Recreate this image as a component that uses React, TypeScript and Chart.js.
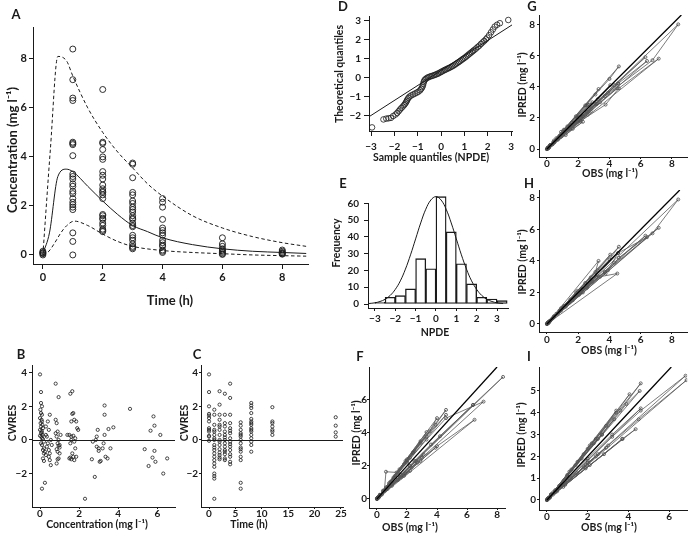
import React, { useEffect, useRef } from 'react';
import { Chart, registerables } from 'chart.js';
Chart.register(...registerables);

const W = 692;
const H = 534;
const FONT = 'Lato, "Open Sans", "DejaVu Sans", sans-serif';
const SUP = 'mg l\u207B\u00B9';

// ---------- Panel A: observed concentrations vs time + median / 90% interval
const aTimes = [0, 1, 2, 3, 4, 6, 8];
const aConc = [
  [0.0, 0.05, 0.1, 0.15, 0.08],
  [8.4, 7.15, 6.4, 6.3, 4.6, 4.55, 4.5, 4.05, 3.3, 3.2, 3.1, 2.9, 2.8, 2.6, 2.5, 2.3, 2.15, 2.05, 1.95, 1.85, 0.9, 0.55, 0.0],
  [6.75, 4.6, 4.55, 4.3, 4.0, 3.9, 3.4, 3.25, 3.1, 2.85, 2.7, 2.6, 2.55, 2.45, 2.3, 1.65, 1.6, 1.5, 1.45, 1.3, 1.2, 1.05, 1.0, 0.95],
  [3.75, 3.7, 3.15, 2.55, 2.45, 2.2, 2.1, 1.95, 1.85, 1.75, 1.6, 1.5, 1.45, 1.3, 1.2, 1.15, 0.8, 0.7, 0.6, 0.45, 0.35, 0.3, 0.25],
  [2.3, 2.15, 1.95, 1.45, 1.1, 1.0, 0.9, 0.8, 0.6, 0.5, 0.4, 0.35, 0.2, 0.15, 0.1],
  [0.7, 0.45, 0.35, 0.25, 0.2, 0.15, 0.1, 0.05, 0.02],
  [0.2, 0.15, 0.1, 0.07, 0.05, 0.03],
];
const aMedT = [0, 0.22, 0.5, 0.78, 1.0, 1.5, 2, 2.5, 3, 3.5, 4, 5, 6, 7, 8, 8.8];
const aMed = [0.05, 0.9, 3.2, 3.5, 3.4, 2.8, 2.2, 1.65, 1.2, 0.95, 0.7, 0.42, 0.25, 0.15, 0.1, 0.06];
const aUpT = [0, 0.25, 0.5, 0.8, 1.0, 1.5, 2, 2.5, 3, 3.5, 4, 5, 6, 7, 8, 8.8];
const aUp = [0.0, 4.3, 8.1, 7.9, 7.3, 6.0, 5.0, 4.2, 3.55, 2.9, 2.4, 1.6, 1.1, 0.75, 0.5, 0.35];
const aLoT = [0, 0.2, 0.4, 0.6, 0.8, 1.05, 1.5, 2, 2.5, 3, 4, 5, 6, 7, 8, 8.8];
const aLo = [0.0, 0.15, 0.5, 0.9, 1.2, 1.38, 1.2, 0.85, 0.55, 0.35, 0.18, 0.1, 0.05, 0.0, -0.03, -0.05];

// ---------- Panel B: CWRES vs concentration
const bPoints = [
  [0, 3.9], [0.05, 2.85], [0.05, 2.2], [0.1, 2.0], [0.02, 1.8], [0.05, 1.6], [0.1, 1.5], [0, 1.3], [0.08, 1.2], [0.1, 1.1],
  [0.03, 1.0], [0.12, 0.9], [0.05, 0.8], [0.15, 0.7], [0, 0.6], [0.08, 0.55], [0.1, 0.45], [0.05, 0.4], [0.12, 0.3], [0, 0.25],
  [0.07, 0.2], [0.1, 0.1], [0.15, 0.05], [0.2, -0.1], [0.05, -0.2], [0.1, -0.3], [0.2, -0.5], [0.15, -0.6], [0.25, -0.7], [0.2, -0.8],
  [0.3, -0.9], [0.15, -1.1], [0.2, -1.25], [0.1, -2.9], [0.25, -2.55], [0.3, 0.3], [0.35, 0.2], [0.4, -0.2], [0.35, -0.4], [0.45, -0.6],
  [0.5, -0.8], [0.45, -1.0], [0.5, -1.2], [0.55, -1.5], [0.4, 1.1], [0.5, 1.5], [0.3, 0.8], [0.45, 0.6], [0.55, 0.0], [0.6, -0.3],
  [0.8, 3.35], [0.95, 2.55], [0.8, 1.2], [0.85, 1.0], [0.9, 0.5], [0.85, 0.2], [0.95, 0.0], [0.9, -0.2], [0.95, -0.35], [1.0, -0.45],
  [0.85, -0.55], [0.9, -0.7], [1.0, -0.8], [0.95, -1.1], [0.9, -1.15], [0.85, -1.4], [1.05, 0.3], [1.0, -0.3], [0.8, 0.4],
  [1.55, 2.75], [1.65, 2.9], [1.7, 1.6], [1.65, 1.55], [1.6, 1.1], [1.75, 1.2], [1.85, 1.1], [1.9, 0.7], [1.95, 0.6], [1.5, 0.3],
  [1.6, 0.2], [1.7, 0.25], [1.8, 0.1], [1.6, 0.0], [1.75, -0.1], [1.8, -0.5], [1.55, -0.2], [1.65, -0.8], [1.7, -1.0], [1.55, -1.05],
  [1.6, -1.15], [1.75, -1.2], [1.85, -1.0], [1.4, 0.3], [1.5, -1.1], [2.3, -3.5],
  [2.65, -1.15], [2.8, -2.2], [2.85, 0.0], [2.95, 0.6], [2.9, 0.2], [2.9, -0.4], [3.0, -0.5], [3.1, -1.25], [3.05, -1.3], [3.2, -0.5],
  [3.25, -0.2], [3.3, 2.05], [3.3, 1.5], [3.3, 0.3], [3.35, -1.0], [3.45, -1.1], [3.5, 0.65], [3.6, -0.5], [3.75, 0.75], [2.7, -0.1], [3.0, -0.65],
  [4.6, 1.85],
  [5.35, -0.55], [5.55, -1.55], [5.65, 0.55], [5.75, -1.05], [5.8, 1.4], [5.85, 0.85], [5.85, -0.65], [5.9, -1.3], [6.15, 0.3], [6.3, -2.0], [6.5, -1.1],
];

// ---------- Panel C: CWRES vs time
const cTimes = [0, 1, 2, 3, 4, 6, 8, 12, 24];
const cRes = [
  [3.9, 2.85, 2.0, 1.55, 1.45, 1.3, 1.1, 0.7, 0.6, 0.5, 0.25, 0.2, -0.05],
  [1.8, 1.5, 0.9, 0.6, 0.3, 0.0, -0.3, -0.6, -0.8, -1.0, -1.2, -1.6, -2.0, -2.15, -2.3, -3.5, 0.5, -0.45, -1.4, 0.1],
  [2.9, 2.1, 1.5, 1.2, 0.9, 0.6, 0.3, 0.0, -0.3, -0.55, -0.75, -0.9, -1.05, -1.15, 0.8, -0.1],
  [2.75, 1.5, 1.0, 0.8, 0.5, 0.3, 0.0, -0.2, -0.4, -0.6, -0.85, -1.1, -1.2, 0.15, -0.7],
  [3.35, 2.5, 1.5, 1.0, 0.7, 0.4, 0.1, -0.1, -0.4, -0.6, -0.85, -1.0, -1.3, -1.45, 0.55, -0.25],
  [1.05, 0.85, 0.6, 0.4, 0.2, 0.0, -0.2, -0.45, -0.7, -1.0, -1.2, -2.55, -2.9, 0.3, -0.55],
  [2.2, 2.05, 1.9, 1.6, 1.25, 1.1, 0.9, 0.7, 0.5, 0.3, 0.1, -0.1, -0.3, -0.7, 1.0, 0.6],
  [1.95, 1.1, 1.0, 0.8, 0.6, 0.5, 0.3],
  [1.35, 0.85, 0.45, 0.2],
];

// ---------- Panel D: QQ plot of NPDE
const dSample = [-2.96, -2.47, -2.35, -2.25, -2.15, -2.05, -1.95, -1.88, -1.82, -1.76, -1.7, -1.64, -1.58, -1.54, -1.5, -1.47, -1.44, -1.4, -1.35, -1.28, -1.2, -1.12, -1.04, -0.97, -0.9, -0.85, -0.81, -0.78, -0.76, -0.74, -0.71, -0.67, -0.62, -0.56, -0.5, -0.44, -0.38, -0.31, -0.25, -0.19, -0.13, -0.07, -0.01, 0.05, 0.11, 0.17, 0.23, 0.29, 0.35, 0.41, 0.47, 0.53, 0.59, 0.65, 0.71, 0.77, 0.83, 0.89, 0.95, 1.01, 1.07, 1.13, 1.19, 1.25, 1.31, 1.37, 1.43, 1.5, 1.57, 1.64, 1.71, 1.78, 1.85, 1.92, 1.98, 2.06, 2.14, 2.22, 2.3, 2.4, 2.52, 2.88];
const dTheo = [-2.6, -2.18, -2.14, -2.12, -2.1, -2.0, -1.92, -1.84, -1.75, -1.66, -1.58, -1.5, -1.42, -1.35, -1.28, -1.2, -1.13, -1.05, -0.98, -0.92, -0.87, -0.82, -0.77, -0.72, -0.65, -0.57, -0.49, -0.4, -0.3, -0.2, -0.12, -0.06, -0.01, 0.03, 0.06, 0.09, 0.11, 0.14, 0.17, 0.2, 0.23, 0.27, 0.31, 0.35, 0.39, 0.43, 0.46, 0.5, 0.53, 0.57, 0.61, 0.65, 0.7, 0.75, 0.8, 0.85, 0.9, 0.96, 1.01, 1.06, 1.12, 1.18, 1.24, 1.3, 1.36, 1.42, 1.48, 1.55, 1.63, 1.7, 1.79, 1.87, 1.95, 2.03, 2.12, 2.25, 2.4, 2.55, 2.7, 2.8, 2.88, 3.05];
const dLineX = [-3.09, 3.04];
const dLineY = [-2.04, 2.79];

// ---------- Panel E: histogram of NPDE with normal curve
const eBinMid = [-2.75, -2.25, -1.75, -1.25, -0.75, -0.25, 0.25, 0.75, 1.25, 1.75, 2.25, 2.75, 3.25];
const eCount = [1, 4, 5, 9, 27, 21, 64, 43, 24, 12, 4, 3, 2];
const eCurveX = [-3.3, -3, -2.75, -2.5, -2.25, -2, -1.75, -1.5, -1.25, -1, -0.75, -0.5, -0.25, 0, 0.25, 0.5, 0.75, 1, 1.25, 1.5, 1.75, 2, 2.25, 2.5, 2.75, 3, 3.3];
const eCurveY = [0.3, 0.7, 1.5, 2.8, 5.1, 8.7, 13.8, 20.8, 29.3, 38.8, 48.3, 56.5, 62.0, 64, 62.0, 56.5, 48.3, 38.8, 29.3, 20.8, 13.8, 8.7, 5.1, 2.8, 1.5, 0.7, 0.3];

// ---------- Panels F-I: IPRED vs OBS per subject
const obsF = [
  [0.05, 8.4, 6.4, 3.6, 2.2, 0.6], [0.1, 7.1, 4.6, 3.3, 2.0, 0.4], [0.0, 6.5, 4.0, 2.9, 1.8, 0.35], [0.15, 6.4, 4.2, 2.5, 1.4, 0.2],
  [0.05, 4.6, 3.9, 2.4, 1.1, 0.2], [0.1, 4.6, 3.3, 2.2, 1.0, 0.15], [0.0, 4.0, 3.5, 2.0, 0.9, 0.1], [0.1, 3.9, 3.0, 1.9, 0.7, 0.1],
  [0.05, 3.3, 2.9, 1.8, 0.6, 0.05], [0.0, 3.1, 2.6, 1.6, 0.5, 0.05], [0.1, 2.9, 2.4, 1.5, 0.4, 0.02], [0.05, 2.7, 2.3, 1.4, 0.3, 0.1],
  [0.0, 2.5, 2.0, 1.2, 0.2, 0.05], [0.1, 2.2, 1.6, 1.0, 0.15, 0.05], [0.05, 1.4, 0.6, 0.5, 0.1, 0.03], [0.0, 1.9, 1.3, 0.8, 0.2, 0.05],
];
const predF = [
  [0.05, 7.4, 5.7, 3.3, 2.0, 0.55], [0.1, 5.9, 4.9, 3.6, 2.2, 0.45], [0.0, 4.8, 3.2, 2.3, 1.4, 0.3], [0.15, 5.7, 3.8, 2.3, 1.3, 0.2],
  [0.05, 5.4, 4.5, 2.8, 1.3, 0.25], [0.1, 5.1, 3.8, 2.5, 1.1, 0.15], [0.0, 4.9, 4.1, 2.4, 1.05, 0.1], [0.1, 3.1, 2.5, 1.55, 0.6, 0.1],
  [0.05, 4.05, 3.4, 2.1, 0.7, 0.05], [0.0, 2.7, 2.3, 1.45, 0.45, 0.05], [0.1, 3.5, 2.8, 1.8, 0.5, 0.03], [0.05, 2.2, 1.9, 1.15, 0.25, 0.1],
  [0.0, 2.9, 2.3, 1.4, 0.25, 0.05], [0.1, 1.7, 1.3, 0.8, 0.12, 0.05], [0.05, 1.6, 1.65, 0.55, 0.1, 0.03], [0.0, 2.3, 1.6, 0.95, 0.25, 0.05],
];
const obsGH = [
  [0.05, 8.4, 6.75, 3.7, 2.3, 0.7], [0.1, 7.15, 4.6, 3.75, 2.15, 0.45], [0.0, 6.4, 4.55, 3.15, 1.95, 0.35], [0.15, 6.3, 4.3, 2.55, 1.45, 0.25],
  [0.05, 4.6, 4.0, 2.45, 1.1, 0.2], [0.1, 4.55, 3.9, 2.2, 1.0, 0.15], [0.0, 4.5, 3.4, 2.1, 0.9, 0.1], [0.1, 4.05, 3.25, 1.95, 0.8, 0.1],
  [0.05, 3.3, 3.1, 1.85, 0.6, 0.05], [0.0, 3.2, 2.85, 1.75, 0.5, 0.05], [0.1, 2.9, 2.7, 1.6, 0.4, 0.02], [0.05, 2.8, 2.6, 1.5, 0.35, 0.1],
  [0.0, 2.6, 2.55, 1.3, 0.2, 0.05], [0.1, 2.3, 1.65, 1.2, 0.15, 0.05], [0.05, 2.05, 1.5, 0.8, 0.1, 0.03], [0.0, 0.9, 1.05, 0.45, 0.2, 0.05],
];
const predG = [
  [0.05, 8.0, 5.7, 3.4, 2.1, 0.6], [0.1, 5.8, 3.9, 2.85, 1.8, 0.4], [0.0, 5.65, 4.2, 2.9, 1.75, 0.3], [0.15, 5.9, 4.1, 2.4, 1.4, 0.25],
  [0.05, 5.3, 4.5, 2.8, 1.25, 0.25], [0.1, 4.2, 3.6, 2.05, 0.95, 0.15], [0.0, 3.9, 3.0, 1.85, 0.8, 0.1], [0.1, 4.1, 3.2, 2.0, 0.8, 0.1],
  [0.05, 3.85, 3.5, 2.1, 0.7, 0.05], [0.0, 2.9, 2.6, 1.6, 0.45, 0.05], [0.1, 3.0, 2.85, 1.7, 0.45, 0.03], [0.05, 2.4, 2.2, 1.3, 0.3, 0.1],
  [0.0, 2.85, 2.8, 1.45, 0.25, 0.05], [0.1, 1.75, 1.3, 0.9, 0.12, 0.05], [0.05, 2.05, 1.5, 0.85, 0.1, 0.03], [0.0, 1.1, 1.2, 0.55, 0.25, 0.05],
];
const predH = [
  [0.05, 7.9, 5.75, 3.3, 2.2, 0.65], [0.1, 6.1, 4.2, 3.2, 2.0, 0.45], [0.0, 5.5, 4.5, 3.0, 1.85, 0.35], [0.15, 5.6, 3.9, 2.3, 1.35, 0.25],
  [0.05, 4.9, 4.1, 2.6, 1.15, 0.2], [0.1, 4.5, 3.4, 2.2, 1.0, 0.15], [0.0, 3.2, 3.0, 2.0, 0.85, 0.1], [0.1, 4.4, 3.4, 2.1, 0.85, 0.1],
  [0.05, 4.0, 3.3, 2.0, 0.65, 0.05], [0.0, 3.1, 2.7, 1.7, 0.5, 0.05], [0.1, 2.7, 2.6, 1.5, 0.4, 0.03], [0.05, 2.95, 2.5, 1.55, 0.35, 0.1],
  [0.0, 2.4, 2.3, 1.25, 0.2, 0.05], [0.1, 2.0, 1.5, 1.1, 0.15, 0.05], [0.05, 1.85, 1.45, 0.8, 0.1, 0.03], [0.0, 1.0, 1.1, 0.5, 0.2, 0.05],
];
const obsI = [
  [0.05, 6.8, 4.6, 3.2, 2.0, 0.5], [0.1, 6.85, 4.5, 3.0, 1.9, 0.4], [0.0, 4.6, 3.6, 2.4, 1.5, 0.3], [0.15, 4.05, 3.4, 2.2, 1.2, 0.2],
  [0.05, 3.4, 2.9, 2.0, 1.0, 0.2], [0.1, 4.35, 3.7, 2.1, 0.9, 0.15], [0.0, 3.7, 2.8, 1.9, 0.8, 0.1], [0.1, 4.6, 3.2, 2.0, 0.7, 0.1],
  [0.05, 3.3, 2.7, 1.7, 0.6, 0.05], [0.0, 2.9, 2.5, 1.5, 0.5, 0.05], [0.1, 2.7, 2.3, 1.4, 0.4, 0.02], [0.05, 2.4, 2.0, 1.2, 0.3, 0.1],
  [0.0, 2.1, 1.8, 1.1, 0.2, 0.05], [0.1, 1.8, 1.4, 0.9, 0.15, 0.05], [0.05, 4.55, 3.9, 2.5, 1.0, 0.03], [0.0, 1.0, 0.7, 0.4, 0.2, 0.05],
];
const predI = [
  [0.05, 5.7, 4.1, 2.9, 1.8, 0.45], [0.1, 5.5, 3.7, 2.5, 1.6, 0.35], [0.0, 5.35, 4.1, 2.8, 1.75, 0.35], [0.15, 4.85, 4.0, 2.6, 1.4, 0.25],
  [0.05, 4.1, 3.4, 2.35, 1.15, 0.25], [0.1, 3.25, 2.8, 1.6, 0.7, 0.12], [0.0, 2.8, 2.1, 1.45, 0.6, 0.08], [0.1, 4.2, 3.0, 1.9, 0.65, 0.1],
  [0.05, 3.7, 3.0, 1.9, 0.65, 0.05], [0.0, 2.4, 2.1, 1.25, 0.4, 0.05], [0.1, 3.0, 2.6, 1.6, 0.45, 0.02], [0.05, 2.0, 1.7, 1.0, 0.25, 0.1],
  [0.0, 2.5, 2.1, 1.3, 0.25, 0.05], [0.1, 1.5, 1.15, 0.75, 0.12, 0.05], [0.05, 5.0, 4.4, 2.8, 1.1, 0.03], [0.0, 0.9, 0.65, 0.35, 0.2, 0.05],
];

// ---------- tick values
const ticksA_x = [0, 2, 4, 6, 8];
const ticksA_y = [0, 2, 4, 6, 8];
const ticksB_x = [0, 2, 4, 6];
const ticksBC_y = [-2, 0, 2, 4];
const ticksC_x = [0, 5, 10, 15, 20, 25];
const ticksD_x = [-3, -2, -1, 0, 1, 2, 3];
const ticksD_y = [-2, -1, 0, 1, 2, 3];
const ticksE_x = [-3, -2, -1, 0, 1, 2, 3];
const ticksE_y = [0, 10, 20, 30, 40, 50, 60];
const ticks0to8 = [0, 2, 4, 6, 8];
const ticksF_y = [0, 2, 4, 6];
const ticksI_x = [0, 2, 4, 6];
const ticksI_y = [0, 1, 2, 3, 4, 5];

// ---------- helpers
const INK = '#1a1a1a';
const fmt = (v: number) => (v < 0 ? '\u2212' + Math.abs(v) : String(v));

function ax(min: number, max: number, ticks: number[], size: number, tl: number, pad: number, fixed: number, horiz: boolean): any {
  return {
    type: 'linear',
    min,
    max,
    offset: false,
    afterBuildTicks: (s: any) => {
      s.ticks = ticks.map((v) => ({ value: v }));
    },
    afterFit: (s: any) => {
      if (horiz) s.height = fixed;
      else s.width = fixed;
    },
    ticks: {
      font: { family: FONT, size, weight: 'bold', lineHeight: 1 },
      color: INK,
      padding: pad,
      autoSkip: false,
      maxRotation: 0,
      minRotation: 0,
      callback: (v: any) => fmt(Number(v)),
    },
    grid: { display: true, drawOnChartArea: false, drawTicks: true, tickLength: tl, color: INK, lineWidth: 1, offset: false },
    border: { display: true, color: INK, width: 1 },
    title: { display: false },
  };
}

type TextItem = { t: string; x: number; y: number; s: number; r?: boolean };

function textPlugin(items: TextItem[]) {
  return {
    id: 'panelText',
    afterDraw(chart: any) {
      const ctx = chart.ctx;
      items.forEach((it) => {
        ctx.save();
        ctx.font = `bold ${it.s}px ${FONT}`;
        ctx.fillStyle = INK;
        ctx.textAlign = 'center';
        ctx.textBaseline = 'middle';
        ctx.translate(it.x, it.y);
        if (it.r) ctx.rotate(-Math.PI / 2);
        ctx.fillText(it.t, 0, 0);
        ctx.restore();
      });
    },
  };
}

const identityPlugin = {
  id: 'identityLine',
  afterDatasetsDraw(chart: any) {
    const { x, y } = chart.scales;
    const a = chart.chartArea;
    const m = Math.min(x.max, y.max);
    const ctx = chart.ctx;
    ctx.save();
    ctx.beginPath();
    ctx.rect(a.left, a.top, a.right - a.left, a.bottom - a.top);
    ctx.clip();
    ctx.beginPath();
    ctx.moveTo(x.getPixelForValue(0), y.getPixelForValue(0));
    ctx.lineTo(x.getPixelForValue(m), y.getPixelForValue(m));
    ctx.strokeStyle = '#000';
    ctx.lineWidth = 1.3;
    ctx.stroke();
    ctx.restore();
  },
};

const zeroLinePlugin = {
  id: 'zeroLine',
  afterDatasetsDraw(chart: any) {
    const { y } = chart.scales;
    const a = chart.chartArea;
    const ctx = chart.ctx;
    const py = Math.round(y.getPixelForValue(0)) + 0.5;
    ctx.save();
    ctx.beginPath();
    ctx.moveTo(a.left, py);
    ctx.lineTo(a.right, py);
    ctx.strokeStyle = INK;
    ctx.lineWidth = 1;
    ctx.stroke();
    ctx.restore();
  },
};

type Spec = {
  box: [number, number, number, number];
  xr: [number, number];
  yr: [number, number];
  xt: number[];
  yt: number[];
  fs: number;
  xtl: number;
  xpad: number;
  ytl: number;
  ypad: number;
  type: any;
  datasets: any[];
  texts: TextItem[];
  extra?: any[];
};

function buildChart(c: HTMLCanvasElement, s: Spec) {
  const [x0, x1, y0, y1] = s.box;
  return new Chart(c, {
    type: s.type,
    data: { datasets: s.datasets },
    options: {
      animation: false,
      responsive: false,
      maintainAspectRatio: false,
      events: [],
      layout: { padding: { left: 0, top: y0, right: W - x1, bottom: 0 } },
      plugins: { legend: { display: false }, tooltip: { enabled: false }, title: { display: false } },
      scales: {
        x: ax(s.xr[0], s.xr[1], s.xt, s.fs, s.xtl, s.xpad, H - y1, true),
        y: ax(s.yr[0], s.yr[1], s.yt, s.fs, s.ytl, s.ypad, x0, false),
      },
    } as any,
    plugins: [textPlugin(s.texts), ...(s.extra || [])],
  } as any);
}

const circles = (data: any[], r: number, bw: number) => ({
  data,
  showLine: false,
  pointStyle: 'circle',
  pointRadius: r,
  pointBorderWidth: bw,
  pointBorderColor: INK,
  pointBackgroundColor: 'rgba(0,0,0,0)',
  borderColor: INK,
  backgroundColor: 'rgba(0,0,0,0)',
});

const curve = (xs: number[], ys: number[], dash: number[]) => ({
  data: xs.map((x, i) => ({ x, y: ys[i] })),
  showLine: true,
  pointRadius: 0,
  borderColor: INK,
  borderWidth: 1,
  borderDash: dash,
  cubicInterpolationMode: 'monotone',
  fill: false,
});

const spaghetti = (obs: number[][], pred: number[][]) =>
  obs.map((o, i) => ({
    data: o.map((v, j) => ({ x: v, y: pred[i][j] })),
    showLine: true,
    borderColor: '#5a5a5a',
    borderWidth: 0.8,
    tension: 0,
    pointStyle: 'circle',
    pointRadius: 1.5,
    pointBorderWidth: 0.8,
    pointBorderColor: '#4a4a4a',
    pointBackgroundColor: 'rgba(0,0,0,0)',
  }));

// ---------- panel specs
const specs: Spec[] = [
  {
    box: [33, 308, 27, 264],
    xr: [-0.33, 8.86],
    yr: [-0.37, 9.3],
    xt: ticksA_x,
    yt: ticksA_y,
    fs: 11,
    xtl: 5,
    xpad: 3,
    ytl: 4,
    ypad: 2,
    type: 'scatter',
    datasets: [
      curve(aMedT, aMed, []),
      curve(aUpT, aUp, [3.5, 2.5]),
      curve(aLoT, aLo, [3.5, 2.5]),
      circles(aTimes.flatMap((t, i) => aConc[i].map((v) => ({ x: t, y: v }))), 3, 0.9),
    ],
    texts: [
      { t: 'A', x: 16, y: 15, s: 13 },
      { t: `Concentration (${SUP})`, x: 13, y: 150, s: 13, r: true },
      { t: 'Time (h)', x: 170, y: 301, s: 13 },
    ],
  },
  {
    box: [32, 175, 365, 507],
    xr: [-0.41, 6.9],
    yr: [-3.99, 4.46],
    xt: ticksB_x,
    yt: ticksBC_y,
    fs: 10,
    xtl: 2,
    xpad: 0,
    ytl: 3,
    ypad: 2,
    type: 'scatter',
    datasets: [circles(bPoints.map(([x, y]) => ({ x, y })), 1.6, 0.8)],
    texts: [
      { t: 'B', x: 21, y: 355, s: 13 },
      { t: 'CWRES', x: 13, y: 423, s: 10.5, r: true },
      { t: `Concentration (${SUP})`, x: 97, y: 525, s: 10.5 },
    ],
    extra: [zeroLinePlugin],
  },
  {
    box: [201, 343, 365, 507],
    xr: [-1.52, 25.38],
    yr: [-3.99, 4.46],
    xt: ticksC_x,
    yt: ticksBC_y,
    fs: 10,
    xtl: 2,
    xpad: 0,
    ytl: 2,
    ypad: 1,
    type: 'scatter',
    datasets: [circles(cTimes.flatMap((t, i) => cRes[i].map((v) => ({ x: t, y: v }))), 1.6, 0.8)],
    texts: [
      { t: 'C', x: 197, y: 355, s: 13 },
      { t: 'CWRES', x: 185, y: 423, s: 10.5, r: true },
      { t: 'Time (h)', x: 249, y: 525, s: 10.5 },
    ],
    extra: [zeroLinePlugin],
  },
  {
    box: [369, 512, 16, 131],
    xr: [-3.09, 3.04],
    yr: [-2.79, 3.26],
    xt: ticksD_x,
    yt: ticksD_y,
    fs: 10,
    xtl: 5,
    xpad: 6,
    ytl: 5,
    ypad: 3,
    type: 'scatter',
    datasets: [
      curve(dLineX, dLineY, []),
      circles(dSample.map((x, i) => ({ x, y: dTheo[i] })), 2.8, 0.8),
    ],
    texts: [
      { t: 'D', x: 343, y: 7, s: 13 },
      { t: 'Theoretical quantiles', x: 340, y: 74, s: 10.5, r: true },
      { t: 'Sample quantiles (NPDE)', x: 431, y: 158, s: 10.5 },
    ],
  },
  {
    box: [368, 508, 203, 308],
    xr: [-3.34, 3.54],
    yr: [-2.38, 60.2],
    xt: ticksE_x,
    yt: ticksE_y,
    fs: 10,
    xtl: 3,
    xpad: 3,
    ytl: 4,
    ypad: 5,
    type: 'bar',
    datasets: [
      {
        type: 'line',
        data: eCurveX.map((x, i) => ({ x, y: eCurveY[i] })),
        pointRadius: 0,
        borderColor: INK,
        borderWidth: 1,
        tension: 0.4,
        fill: false,
        clip: false,
      },
      {
        type: 'bar',
        data: eBinMid.map((x, i) => ({ x, y: eCount[i] })),
        backgroundColor: 'rgba(0,0,0,0)',
        borderColor: INK,
        borderWidth: 0.7,
        borderSkipped: false,
        barPercentage: 1,
        categoryPercentage: 1,
        grouped: false,
        clip: false,
      },
    ],
    texts: [
      { t: 'E', x: 343, y: 184, s: 13 },
      { t: 'Frequency', x: 337, y: 243, s: 10.5, r: true },
      { t: 'NPDE', x: 435, y: 333, s: 10.5 },
    ],
  },
  {
    box: [369, 505, 367, 508],
    xr: [-0.53, 8.53],
    yr: [-0.55, 8.0],
    xt: ticks0to8,
    yt: ticksF_y,
    fs: 10,
    xtl: 2,
    xpad: 0,
    ytl: 2,
    ypad: 0,
    type: 'scatter',
    datasets: spaghetti(obsF, predF),
    texts: [
      { t: 'F', x: 360, y: 357, s: 13 },
      { t: `IPRED (${SUP})`, x: 357, y: 433, s: 10.5, r: true },
      { t: `OBS (${SUP})`, x: 410, y: 528, s: 10.5 },
    ],
    extra: [identityPlugin],
  },
  {
    box: [539, 687, 15, 157],
    xr: [-0.51, 8.96],
    yr: [-0.51, 8.6],
    xt: ticks0to8,
    yt: ticks0to8,
    fs: 10,
    xtl: 2,
    xpad: 0,
    ytl: 2,
    ypad: 2,
    type: 'scatter',
    datasets: spaghetti(obsGH, predG),
    texts: [
      { t: 'G', x: 532, y: 7, s: 13 },
      { t: `IPRED (${SUP})`, x: 523, y: 85, s: 10.5, r: true },
      { t: `OBS (${SUP})`, x: 610, y: 174, s: 10.5 },
    ],
    extra: [identityPlugin],
  },
  {
    box: [539, 687, 190, 332],
    xr: [-0.51, 8.96],
    yr: [-0.51, 8.5],
    xt: ticks0to8,
    yt: ticks0to8,
    fs: 10,
    xtl: 2,
    xpad: 1,
    ytl: 2,
    ypad: 2,
    type: 'scatter',
    datasets: spaghetti(obsGH, predH),
    texts: [
      { t: 'H', x: 529, y: 184, s: 13 },
      { t: `IPRED (${SUP})`, x: 523, y: 262, s: 10.5, r: true },
      { t: `OBS (${SUP})`, x: 609, y: 351, s: 10.5 },
    ],
    extra: [identityPlugin],
  },
  {
    box: [539, 688, 367, 510],
    xr: [-0.39, 6.88],
    yr: [-0.46, 6.1],
    xt: ticksI_x,
    yt: ticksI_y,
    fs: 10,
    xtl: 2,
    xpad: 0,
    ytl: 2,
    ypad: 1,
    type: 'scatter',
    datasets: spaghetti(obsI, predI),
    texts: [
      { t: 'I', x: 529, y: 357, s: 13 },
      { t: `IPRED (${SUP})`, x: 522, y: 435, s: 10.5, r: true },
      { t: `OBS (${SUP})`, x: 609, y: 528, s: 10.5 },
    ],
    extra: [identityPlugin],
  },
];

function Panel({ spec }: { spec: Spec }) {
  const ref = useRef<HTMLCanvasElement>(null);
  useEffect(() => {
    const chart = buildChart(ref.current as HTMLCanvasElement, spec);
    return () => chart.destroy();
  }, [spec]);
  return (
    <canvas
      ref={ref}
      width={W}
      height={H}
      style={{ position: 'absolute', left: 0, top: 0, width: W, height: H }}
    />
  );
}

export default function App() {
  return (
    <div style={{ position: 'absolute', left: 0, top: 0, width: W, height: H, background: '#fff', overflow: 'hidden' }}>
      {specs.map((s, i) => (
        <Panel key={i} spec={s} />
      ))}
    </div>
  );
}
